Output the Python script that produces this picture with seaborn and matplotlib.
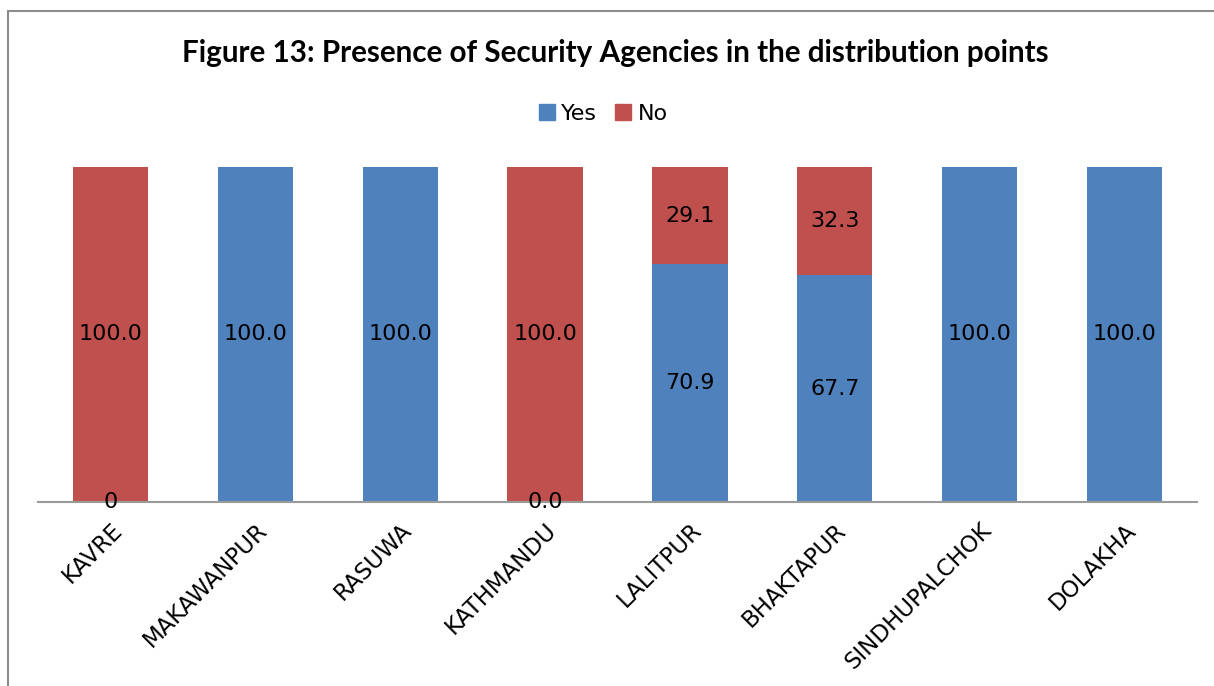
import pandas as pd
import numpy as np
import matplotlib.pyplot as plt
import seaborn as sns
from matplotlib.patches import Patch, Rectangle

# Data
districts = ["KAVRE", "MAKAWANPUR", "RASUWA", "KATHMANDU",
             "LALITPUR", "BHAKTAPUR", "SINDHUPALCHOK", "DOLAKHA"]
yes_pct = [0, 100.0, 100.0, 0.0, 70.9, 67.7, 100.0, 100.0]
no_pct = [100.0, 0, 0, 100.0, 29.1, 32.3, 0, 0]
yes_labels = ["0", "100.0", "100.0", "0.0", "70.9", "67.7", "100.0", "100.0"]
no_labels = ["100.0", "", "", "100.0", "29.1", "32.3", "", ""]

blue = "#4F81BD"
red = "#C0504D"

df = pd.DataFrame({"district": districts, "yes": yes_pct, "no": no_pct})
df["total"] = df["yes"] + df["no"]

sns.set_style("white")
plt.rcParams["font.family"] = ["DejaVu Sans"]
plt.rcParams["text.color"] = "black"
plt.rcParams["xtick.color"] = "black"

fig = plt.figure(figsize=(12.14, 6.86), dpi=100)
ax = fig.add_axes([0.0313, 0.2682, 0.9547, 0.4884])

# stacked: draw total (No on top) first, then Yes over it
sns.barplot(data=df, x="district", y="total", color=red, width=0.52,
            saturation=1, ax=ax, edgecolor="none")
sns.barplot(data=df, x="district", y="yes", color=blue, width=0.52,
            saturation=1, ax=ax, edgecolor="none")

ax.set_ylim(0, 100)
ax.set_xlim(-0.5, len(districts) - 0.5)
ax.set_xlabel("")
ax.set_ylabel("")
ax.set_yticks([])
for s in ["top", "right", "left"]:
    ax.spines[s].set_visible(False)
ax.spines["bottom"].set_color("#9a9a9a")
ax.spines["bottom"].set_linewidth(1.5)

ax.set_xticks(range(len(districts)))
ax.set_xticklabels(districts, rotation=45, ha="right", rotation_mode="anchor",
                   fontsize=16.5, color="black")
ax.tick_params(axis="x", length=0, pad=12)

# value labels centred in each segment
for i in range(len(districts)):
    y, n = yes_pct[i], no_pct[i]
    if yes_labels[i]:
        ax.text(i, y / 2, yes_labels[i], ha="center", va="center", fontsize=16, color="black")
    if no_labels[i]:
        ax.text(i, y + n / 2, no_labels[i], ha="center", va="center", fontsize=16, color="black")

fig.text(0.507, 0.923, "Figure 13: Presence of Security Agencies in the distribution points",
         ha="center", va="center", fontsize=21.3, fontweight="bold", color="black",
         family=["Lato", "DejaVu Sans"])

handles = [Patch(color=blue, label="Yes"), Patch(color=red, label="No")]
fig.legend(handles=handles, loc="center", bbox_to_anchor=(0.497, 0.834), ncol=2,
           frameon=False, fontsize=16, handlelength=0.7, handleheight=0.7,
           handletextpad=0.3, columnspacing=0.8)

# chart frame (cut by the page on right and bottom)
fig.patches.append(Rectangle((8 / 1214, -0.1), 1.2, 0.1 + 1 - 11 / 686,
                             transform=fig.transFigure, fill=False,
                             edgecolor="#8c8c8c", linewidth=1.5))

fig.savefig("out.png", dpi=100)
